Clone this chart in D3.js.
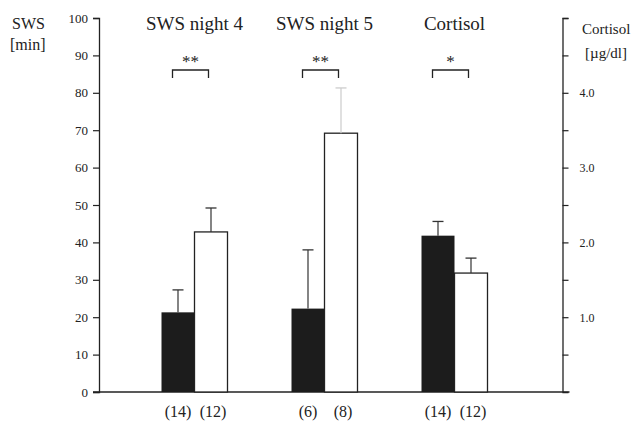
<!DOCTYPE html>
<html>
<head>
<meta charset="utf-8">
<script src="https://cdn.jsdelivr.net/npm/d3@7"></script>
<style>
  body { margin: 0; background: #fff; }
</style>
</head>
<body>
<div id="chart"></div>
<script>
var width = 641;
var height = 423;
var serif = "'Liberation Serif', serif";

// data
var groups     = ["SWS night 4", "SWS night 5", "Cortisol"];
var blackVals  = [21.3, 22.3, 2.09];
var blackErr   = [27.3, 38.0, 2.28];
var whiteVals  = [42.8, 69.2, 1.59];
var whiteErr   = [49.2, 81.3, 1.79];
var nBlack     = ["(14)", "(6)", "(14)"];
var nWhite     = ["(12)", "(8)", "(12)"];
var sigMarks   = ["**", "**", "*"];
var leftTicks  = [0, 10, 20, 30, 40, 50, 60, 70, 80, 90, 100];
var rightTicks = [0.5, 1.0, 1.5, 2.0, 2.5, 3.0, 3.5, 4.0, 4.5, 5.0];
var rightLabels = [1.0, 2.0, 3.0, 4.0];
// which scale each group uses
var useRight   = [false, false, true];

var svg = d3.select("#chart")
  .append("svg")
    .attr("width", width)
    .attr("height", height);

var yL = d3.scaleLinear().domain([0, 100]).range([392, 18]);
var yR = d3.scaleLinear().domain([0, 5]).range([392, 18]);
var x = d3.scalePoint().domain(groups).range([194.5, 454.5]);
var barW = 33;

var axL = 99, axR = 562.5;

function label(xp, yp, size, txt, anchor) {
  return svg.append("text")
    .attr("x", xp).attr("y", yp)
    .attr("text-anchor", anchor || "start")
    .style("font-family", serif)
    .style("font-size", size + "px")
    .style("fill", "#222")
    .text(txt);
}

// left axis
var gL = svg.append("g").attr("transform", "translate(" + axL + ",0)")
  .call(d3.axisLeft(yL).tickValues(leftTicks).tickSize(6).tickPadding(5)
    .tickFormat(d3.format("d")));
gL.select(".domain").attr("stroke", "#222").attr("stroke-width", 1.3);
gL.selectAll(".tick line").attr("stroke", "#222").attr("stroke-width", 1.2);
gL.selectAll(".tick text").style("font-family", serif).style("font-size", "13px").style("fill", "#222");

// right axis
var gR = svg.append("g").attr("transform", "translate(" + axR + ",0)")
  .call(d3.axisRight(yR).tickValues(rightTicks).tickSize(6).tickPadding(11)
    .tickFormat(function(d){ return rightLabels.indexOf(d) >= 0 ? d3.format(".1f")(d) : ""; }));
gR.select(".domain").attr("stroke", "#222").attr("stroke-width", 1.3);
gR.selectAll(".tick line").attr("stroke", "#222").attr("stroke-width", 1.2);
gR.selectAll(".tick text").style("font-family", serif).style("font-size", "12px").style("fill", "#222");

// baseline
svg.append("line")
  .attr("x1", axL - 6).attr("x2", axR + 7)
  .attr("y1", yL(0)).attr("y2", yL(0))
  .attr("stroke", "#222").attr("stroke-width", 1.5);

// bars
groups.forEach(function(g, i) {
  var y = useRight[i] ? yR : yL;
  var cx = x(g);

  // black bar
  svg.append("rect")
    .attr("x", cx - barW).attr("y", y(blackVals[i]))
    .attr("width", barW).attr("height", y(0) - y(blackVals[i]))
    .attr("fill", "#1c1c1c");

  // white bar
  svg.append("rect")
    .attr("x", cx).attr("y", y(whiteVals[i]))
    .attr("width", barW).attr("height", y(0) - y(whiteVals[i]))
    .attr("fill", "#fff").attr("stroke", "#222").attr("stroke-width", 1.3);

  // error bars
  var eb = [
    {c: cx - barW / 2, v: blackVals[i], e: blackErr[i], col: "#333"},
    {c: cx + barW / 2, v: whiteVals[i], e: whiteErr[i], col: i == 1 ? "#ccc" : "#333"}
  ];
  eb.forEach(function(d) {
    svg.append("line")
      .attr("x1", d.c).attr("x2", d.c)
      .attr("y1", y(d.v)).attr("y2", y(d.e))
      .attr("stroke", d.col).attr("stroke-width", 1.2);
    svg.append("line")
      .attr("x1", d.c - 5.5).attr("x2", d.c + 5.5)
      .attr("y1", y(d.e)).attr("y2", y(d.e))
      .attr("stroke", d.col).attr("stroke-width", 1.3);
  });

  // group title
  label(cx, 30, 19, g, "middle");

  // significance bracket
  svg.append("path")
    .attr("d", "M" + (cx - 22) + ",78 V70 H" + (cx + 14) + " V78")
    .attr("fill", "none").attr("stroke", "#222").attr("stroke-width", 1.3);
  label(cx - 4, 67, 17, sigMarks[i], "middle");

  // n labels
  label(cx - barW / 2, 417, 16, nBlack[i], "middle");
  label(cx + barW / 2 + 2, 417, 16, nWhite[i], "middle");
});

// axis titles
label(12, 29, 16, "SWS");
label(10, 50, 16, "[min]");
label(582, 34, 15, "Cortisol");
label(585, 58, 15, "[µg/dl]");
</script>
</body>
</html>
